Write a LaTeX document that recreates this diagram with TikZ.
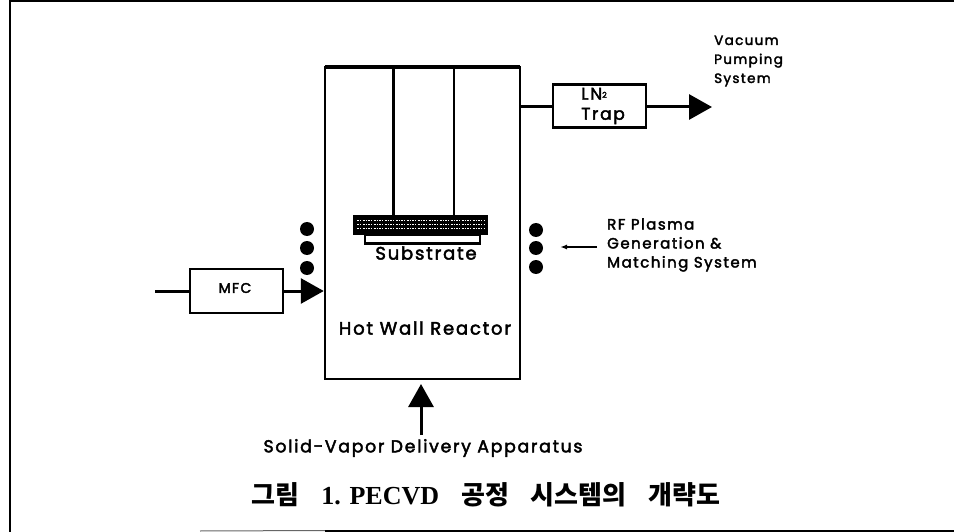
\documentclass[tikz,border=0pt]{standalone}
\usepackage{fontspec}
\setmainfont{Poppins}[LetterSpace=10,FakeBold=2.5]
\newfontfamily\capfont{Liberation Serif}[BoldFont={Liberation Serif Bold}]
\newfontfamily\krfont{Noto Sans CJK KR}
\usetikzlibrary{arrows.meta}
\tikzset{
  box/.style={draw=black,line width=2.8pt,fill=white,inner sep=0pt,minimum width=93pt,minimum height=43pt},
  lbl/.style={inner sep=0pt,font=\fontsize{18}{19}\selectfont,text=black},
  lbll/.style={lbl,align=left,anchor=west},
  pipe/.style={line width=3pt},
  bigtip/.style={-{Triangle[length=23pt,width=25pt]},line width=3pt},
  coil/.style={circle,fill=black,minimum size=14pt,inner sep=0pt}
}
\begin{document}
\begin{tikzpicture}[x=1pt,y=-1pt]
\useasboundingbox (0,0) rectangle (954,532);
\fill[white] (0,0) rectangle (954,532);
% frame
\coordinate (fa) at (954,1.5);
\coordinate (fb) at (9.5,1.5);
\coordinate (fc) at (9.5,532);
\coordinate (fd) at (325,530.5);
\coordinate (fe) at (954,530.5);
\coordinate (ff) at (200,531);
\draw[line width=2pt] (fa) -- (fb) -- (fc);
\draw[line width=1pt,black!60] (ff) -- (fd);
\draw[line width=2pt] (fd) -- (fe);
% reactor
\node[draw=black,line width=2.5pt,inner sep=0pt,minimum width=195pt,minimum height=312pt] (reactor) at (422.5,223) {};
\coordinate (topl) at (325,67);
\coordinate (topr) at (520,67);
\draw[line width=3.6pt] (topl) -- (topr);
% substrate assembly
\node[draw=black,line width=2.2pt,fill=white,inner sep=0pt,minimum width=115pt,minimum height=9pt] (holder) at (422.5,239) {};
\node[fill=black,inner sep=0pt,minimum width=135pt,minimum height=20pt] (plate) at (420.5,225) {};
\foreach \yy in {220.5,224.5,228.5}
  \draw[white,line width=0.9pt,dash pattern=on 2pt off 1pt on 1pt off 1.5pt] (357,\yy) -- (484,\yy);
\coordinate (h1) at (393,67);
\coordinate (h2) at (454,67);
\draw[line width=3pt] (h1) -- (h1 |- plate.north);
\draw[line width=1.8pt] (h2) -- (h2 |- plate.north);
\node[lbl] (sub) at (426,253) {Substrate};
\node[lbl] (hot) at (425,328) {Hot Wall Reactor};
% coils
\foreach \n/\yy in {1/229,2/248,3/268} \node[coil] (cl\n) at (307,\yy) {};
\foreach \n/\yy in {1/230,2/248,3/267} \node[coil] (cr\n) at (536,\yy) {};
% trap
\node[box] (trap) at (599.5,106) {};
\node[lbl,align=left,font=\fontsize{17}{20}\selectfont] (traptxt) at (603,106) {LN\raisebox{2pt}{\fontsize{8}{8}\selectfont 2}\\Trap};
\coordinate (trapin) at (521,107);
\coordinate (trapinb) at (trap.west |- trapin);
\coordinate (trapout) at (trap.east |- trapin);
\coordinate (vac) at (712,107);
\draw[pipe] (trapin) -- (trapinb);
\draw[bigtip] (trapout) -- (vac);
\node[lbll,font=\fontsize{13.5}{19}\selectfont] (vactxt) at (714,61) {Vacuum\\Pumping\\System};
% MFC
\node[box,minimum height=44pt] (mfc) at (236.5,291) {};
\node[lbl,font=\fontsize{14}{15}\selectfont] (mfctxt) at (235,288) {MFC};
\coordinate (gas) at (155,291);
\draw[pipe] (gas) -- (mfc.west);
\draw[bigtip] (mfc.east) -- (reactor.west |- mfc.east);
% bottom
\coordinate (solbase) at (421,435);
\coordinate (soltip) at (421,384);
\draw[bigtip] (solbase) -- (soltip);
\node[lbl,font=\fontsize{17.3}{18}\selectfont] (soltxt) at (423,448) {Solid-Vapor Delivery Apparatus};
% RF
\node[lbll,font=\fontsize{15}{19}\selectfont] (rf) at (607,245) {RF Plasma\\Generation \&\\Matching System};
\coordinate (rfa) at (597,247);
\coordinate (rfb) at (560,247);
\draw[line width=1.4pt,-{Latex[length=7pt,width=5pt]}] (rfa) -- (rfb);
% caption
\node[inner sep=0pt,font=\fontsize{26}{30}\selectfont] (cap) at (486,495) {\krfont\bfseries 그림\hspace{22pt}{\capfont\bfseries 1. PECVD}\hspace{22pt}공정\hspace{22pt}시스템의\hspace{22pt}개략도};
\end{tikzpicture}
\end{document}
